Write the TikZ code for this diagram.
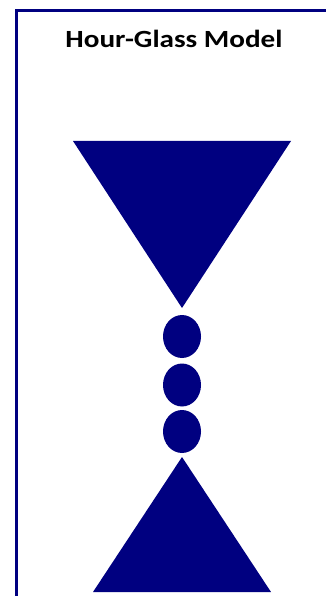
\documentclass[tikz,border=0pt]{standalone}
\usepackage{fontspec}
\setsansfont{Carlito}
\definecolor{navy}{RGB}{0,0,128}
\begin{document}
\begin{tikzpicture}[x=1bp,y=-1bp,line join=miter]
			\useasboundingbox (0,0) rectangle (325,596);
			\draw[navy,line width=3bp] (16.5,600) -- (16.5,10.5) -- (330,10.5);
			\node[inner sep=0pt,anchor=base,xscale=1.18] (title) at (174,48) {\sffamily\bfseries\fontsize{24.8}{28}\selectfont Hour-Glass Model};
			\fill[navy] (73,141) -- (291,141) -- (182,308) -- cycle;
			\fill[navy] (182,336.5) ellipse (19 and 21.5);
			\fill[navy] (182,385) ellipse (19 and 21.5);
			\fill[navy] (182,431.5) ellipse (19 and 21.5);
			\fill[navy] (182,457) -- (271,592) -- (93,592) -- cycle;
		\end{tikzpicture}
\end{document}
